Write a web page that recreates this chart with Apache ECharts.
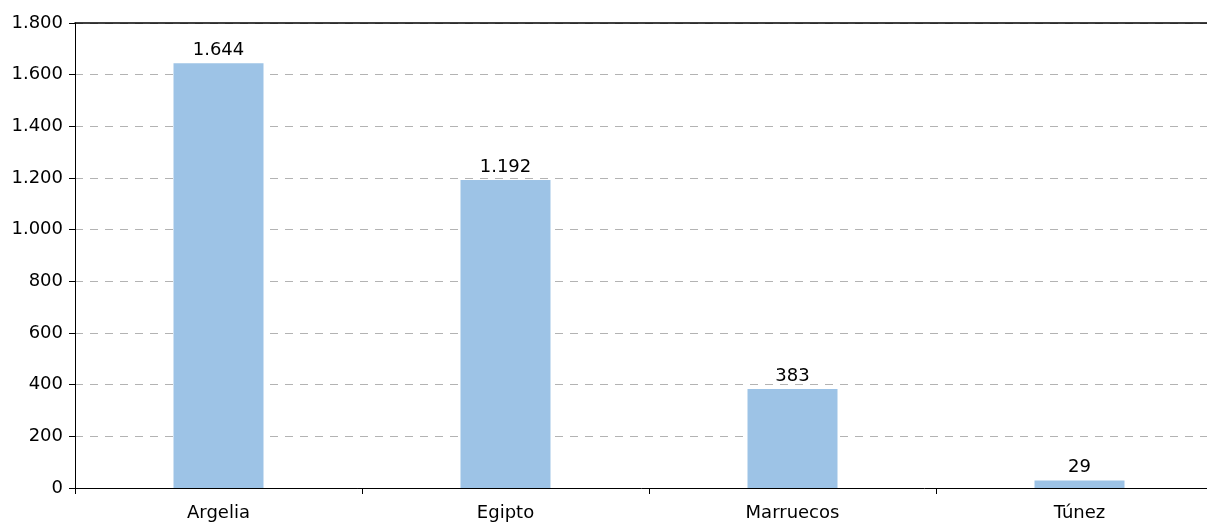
<!DOCTYPE html>
<html>
<head>
<meta charset="utf-8">
<script src="https://cdn.jsdelivr.net/npm/echarts@6/dist/echarts.min.js"></script>
<style>
  html, body { margin: 0; padding: 0; background: #fff; }
  #main { width: 1207px; height: 526px; }
</style>
</head>
<body>
<div id="main"></div>
<script>
// datos del gráfico
const paises = ['Argelia', 'Egipto', 'Marruecos', 'Túnez'];
const valores = [1644, 1192, 383, 29];

// formato con punto de miles
function fmt(v) {
  return String(v).replace(/\B(?=(\d{3})+(?!\d))/g, '.');
}

const chart = echarts.init(document.getElementById('main'));
const font = 'DejaVu Sans, Arial, sans-serif';

chart.setOption({
  animation: false,
  // el área sigue más allá del borde derecho, como en el original
  grid: { left: 75, top: 23, right: -16, bottom: 38, outerBoundsMode: 'none' },
  xAxis: [{
    type: 'category',
    data: paises,
    axisLine: { lineStyle: { color: '#000', width: 1 } },
    axisTick: { show: true, length: 6, lineStyle: { color: '#000' } },
    axisLabel: { color: '#000', fontSize: 18, fontFamily: font, margin: 16 }
  }, {
    // linea superior del área del gráfico
    type: 'category',
    data: paises,
    position: 'top',
    axisLine: { lineStyle: { color: '#000', width: 1.5 } },
    axisTick: { show: false },
    axisLabel: { show: false }
  }],
  yAxis: {
    type: 'value',
    min: 0,
    max: 1800,
    interval: 200,
    axisLine: { show: true, lineStyle: { color: '#000' } },
    axisTick: { show: true, length: 6, lineStyle: { color: '#000' } },
    axisLabel: { color: '#000', fontSize: 18, fontFamily: font, margin: 12, formatter: fmt },
    splitLine: { lineStyle: { color: '#b3b3b3', type: [8, 7], width: 1 } }
  },
  series: [{
    type: 'bar',
    data: valores,
    barWidth: 90,
    itemStyle: { color: '#9dc3e6' },
    label: {
      show: true,
      position: 'top',
      distance: 4,
      color: '#000',
      fontSize: 18,
      fontFamily: font,
      formatter: p => fmt(p.value)
    }
  }]
});
</script>
</body>
</html>
